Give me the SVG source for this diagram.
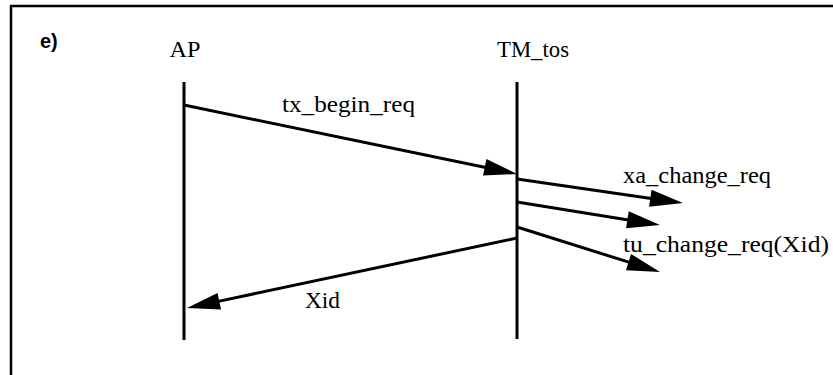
<svg xmlns="http://www.w3.org/2000/svg" width="833" height="375" viewBox="0 0 833 375">
<style>
.frame{fill:none;stroke:#000;stroke-width:2.5}
.life{stroke:#000;stroke-width:3;fill:none}
.msg{stroke:#000;stroke-width:3;fill:none;marker-end:url(#ah)}
.lbl{font-family:"Liberation Serif","Times New Roman",serif;font-size:24px;fill:#000}
.tag{font-family:"Liberation Sans",Arial,sans-serif;font-size:20px;font-weight:bold;fill:#000}
</style>
<defs>
<marker id="ah" markerUnits="userSpaceOnUse" markerWidth="40" markerHeight="24" viewBox="-2 -12 40 24" refX="0" refY="0" orient="auto">
<path d="M-1,-8.5 L32,0 L-1,8.5 Z" fill="#000"/>
</marker>
</defs>
<rect width="833" height="375" fill="#fff"/>
<g id="frame">
<path class="frame" d="M11,375 L11,6 L833,6"/>
<text class="tag" x="40" y="48">e)</text>
</g>
<g id="AP">
<text class="lbl" x="185" y="57" text-anchor="middle" textLength="31" lengthAdjust="spacingAndGlyphs">AP</text>
<line class="life" x1="184" y1="82" x2="184" y2="340"/>
</g>
<g id="TM_tos">
<text class="lbl" x="497" y="57" textLength="72" lengthAdjust="spacingAndGlyphs">TM_tos</text>
<line class="life" x1="517" y1="82" x2="517" y2="339"/>
</g>
<g id="connectors">
<line class="msg" x1="184" y1="105" x2="485.7" y2="167.5"/>
<line class="msg" x1="517" y1="179" x2="651.3" y2="198.4"/>
<line class="msg" x1="517" y1="202" x2="628.4" y2="219.9"/>
<line class="msg" x1="517" y1="227" x2="629.5" y2="262.4"/>
<line class="msg" x1="517" y1="238" x2="218.3" y2="301.4"/>
<text class="lbl" x="282" y="112" textLength="133" lengthAdjust="spacingAndGlyphs">tx_begin_req</text>
<text class="lbl" x="623" y="183" textLength="148" lengthAdjust="spacingAndGlyphs">xa_change_req</text>
<text class="lbl" x="623" y="252" textLength="206" lengthAdjust="spacingAndGlyphs">tu_change_req(Xid)</text>
<text class="lbl" x="305" y="308" textLength="35" lengthAdjust="spacingAndGlyphs">Xid</text>
</g>
</svg>
